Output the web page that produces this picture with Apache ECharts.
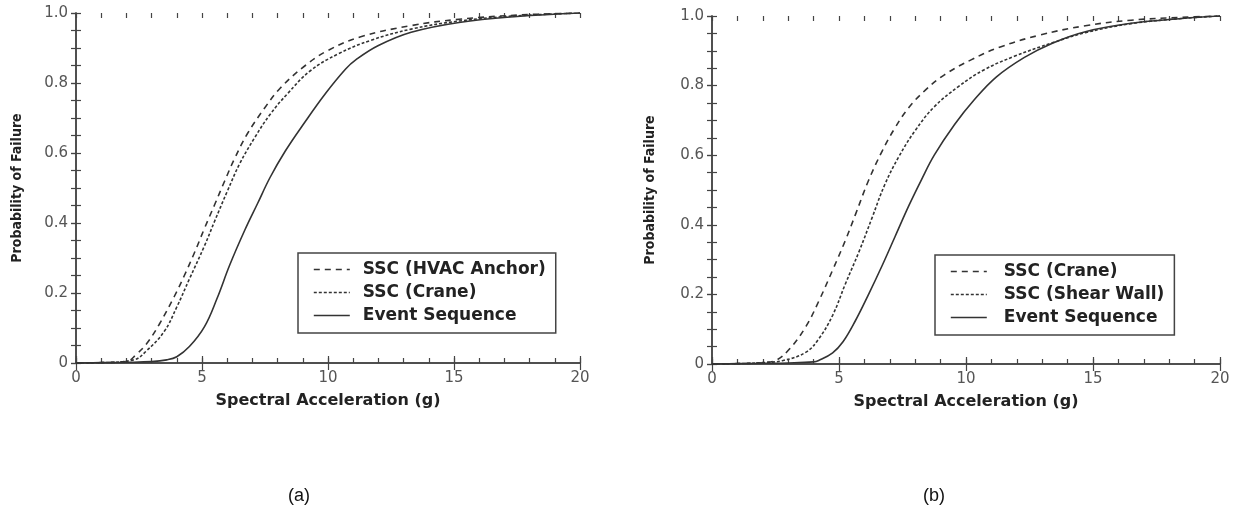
<!DOCTYPE html>
<html>
<head>
<meta charset="utf-8">
<script src="https://cdn.jsdelivr.net/npm/echarts@6/dist/echarts.min.js"></script>
<style>
  html, body { margin: 0; padding: 0; background: #fff; }
  #main { width: 1234px; height: 513px; }
</style>
</head>
<body>
<div id="main"></div>
<script>
// (a) HVAC anchor / crane / event sequence
var hvacX = [0, 1, 2, 2.4, 2.8, 3.3, 3.9, 4.3, 4.7, 5.1, 5.5, 5.9, 6.3, 6.8, 7.5, 8.1, 9.1, 10, 11.3, 13.3, 15.2, 17.5, 20];
var hvacY = [0, 0.001, 0.004, 0.025, 0.055, 0.11, 0.19, 0.25, 0.315, 0.385, 0.452, 0.52, 0.585, 0.655, 0.73, 0.785, 0.85, 0.893, 0.932, 0.964, 0.982, 0.994, 1.0];
var craneAX = [0, 1, 2.3, 2.8, 3.5, 4, 4.5, 5.1, 5.5, 6, 6.5, 7.1, 7.7, 8.4, 9.3, 10.4, 11.7, 13.3, 15.2, 17.5, 20];
var craneAY = [0, 0.001, 0.009, 0.035, 0.09, 0.16, 0.24, 0.335, 0.405, 0.49, 0.57, 0.645, 0.71, 0.77, 0.835, 0.883, 0.922, 0.954, 0.977, 0.992, 1.0];
var eventAX = [0, 1, 2, 3, 3.6, 4, 4.5, 5.1, 5.6, 6.1, 6.7, 7.2, 7.7, 8.3, 9.1, 9.9, 10.7, 11.1, 12, 13.3, 15.2, 17.5, 20];
var eventAY = [0, 0.001, 0.002, 0.004, 0.009, 0.018, 0.047, 0.104, 0.185, 0.28, 0.38, 0.455, 0.53, 0.605, 0.69, 0.77, 0.84, 0.866, 0.907, 0.945, 0.973, 0.99, 1.0];

// (b) crane / shear wall / event sequence
var craneBX = [0, 1, 2, 2.5, 3.05, 3.7, 4.2, 4.75, 5.25, 5.65, 6.15, 6.7, 7.2, 7.75, 8.4, 9.15, 10.2, 11.35, 12.9, 14.7, 16.5, 18.5, 20];
var craneBY = [0, 0.001, 0.004, 0.01, 0.043, 0.108, 0.18, 0.27, 0.355, 0.43, 0.525, 0.612, 0.678, 0.737, 0.787, 0.831, 0.874, 0.911, 0.945, 0.972, 0.988, 0.996, 1.0];
var shearBX = [0, 1, 2, 2.8, 3.7, 4.2, 4.75, 5.25, 5.8, 6.3, 6.8, 7.35, 8, 8.75, 9.7, 10.7, 11.9, 13.4, 14.7, 16.5, 18.5, 20];
var shearBY = [0, 0.001, 0.004, 0.01, 0.034, 0.072, 0.14, 0.23, 0.325, 0.42, 0.515, 0.595, 0.671, 0.739, 0.797, 0.845, 0.884, 0.923, 0.952, 0.978, 0.993, 1.0];
var eventBX = [0, 1, 2, 3, 4, 4.2, 4.75, 5.15, 5.65, 6.15, 6.7, 7.2, 7.75, 8.25, 8.75, 9.55, 10.3, 11.2, 12.3, 13.4, 14.7, 16.5, 18.5, 20];
var eventBY = [0, 0.001, 0.002, 0.003, 0.006, 0.01, 0.032, 0.063, 0.125, 0.198, 0.283, 0.365, 0.455, 0.53, 0.6, 0.688, 0.757, 0.825, 0.881, 0.922, 0.955, 0.979, 0.993, 1.0];

var legendA = ['SSC (HVAC Anchor)', 'SSC (Crane)', 'Event Sequence'];
var legendB = ['SSC (Crane)', 'SSC (Shear Wall)', 'Event Sequence'];
var xTitle = 'Spectral Acceleration (g)';
var yTitle = 'Probability of Failure';

var DASH = [6, 5];
var DOT = [3, 2];
var INK = '#333';
var AXIS = '#444';

function pairs(xs, ys) {
    return xs.map(function (x, i) { return [x, ys[i]]; });
}

function xAxes(grid) {
    var line = { show: true, lineStyle: { color: AXIS, width: 1.5 } };
    return [
        {   // labelled bottom axis
            gridIndex: grid, type: 'value', position: 'bottom', min: 0, max: 20, interval: 5,
            axisLine: line,
            axisTick: { inside: true, length: 7, lineStyle: { color: AXIS, width: 1.2 } },
            axisLabel: { margin: 8, color: '#555', fontSize: 15, fontFamily: 'DejaVu Sans' },
            splitLine: { show: false },
            name: xTitle, nameLocation: 'middle', nameGap: 30,
            nameTextStyle: { fontSize: 16, fontWeight: 'bold', color: '#222', fontFamily: 'DejaVu Sans' }
        },
        {   // small bottom ticks
            gridIndex: grid, type: 'value', position: 'bottom', min: 0, max: 20, interval: 1,
            axisLine: { show: false },
            axisTick: { inside: true, length: 5, lineStyle: { color: AXIS, width: 1.2 } },
            axisLabel: { show: false }, splitLine: { show: false }
        },
        {   // top frame
            gridIndex: grid, type: 'value', position: 'top', min: 0, max: 20, interval: 5,
            axisLine: line,
            axisTick: { inside: true, length: 7, lineStyle: { color: AXIS, width: 1.2 } },
            axisLabel: { show: false }, splitLine: { show: false }
        },
        {
            gridIndex: grid, type: 'value', position: 'top', min: 0, max: 20, interval: 1,
            axisLine: { show: false },
            axisTick: { inside: true, length: 5, lineStyle: { color: AXIS, width: 1.2 } },
            axisLabel: { show: false }, splitLine: { show: false }
        }
    ];
}

function yAxes(grid, gap) {
    var line = { show: true, lineStyle: { color: AXIS, width: 1.5 } };
    return [
        {
            gridIndex: grid, type: 'value', position: 'left', min: 0, max: 1, interval: 0.2,
            axisLine: line,
            axisTick: { inside: false, length: 5, lineStyle: { color: AXIS, width: 1.2 } },
            axisLabel: {
                margin: 8, color: '#555', fontSize: 15, fontFamily: 'DejaVu Sans',
                formatter: function (v) { return v === 0 ? '0' : v.toFixed(1); }
            },
            splitLine: { show: false },
            name: yTitle, nameLocation: 'middle', nameRotate: 90, nameGap: gap,
            nameTextStyle: {
                fontSize: 14, fontWeight: 'bold', color: '#222',
                fontFamily: "'Liberation Sans Narrow', 'DejaVu Sans Condensed', 'Liberation Sans'"
            }
        },
        {
            gridIndex: grid, type: 'value', position: 'left', min: 0, max: 1, interval: 0.05,
            axisLine: { show: false },
            axisTick: { inside: true, length: 5, lineStyle: { color: AXIS, width: 1.2 } },
            axisLabel: { show: false }, splitLine: { show: false }
        },
        {
            gridIndex: grid, type: 'value', position: 'right', min: 0, max: 1, interval: 0.05,
            axisLine: line,
            axisTick: { inside: true, length: 5, lineStyle: { color: AXIS, width: 1.2 } },
            axisLabel: { show: false }, splitLine: { show: false }
        }
    ];
}

function curve(name, xi, yi, xs, ys, type) {
    return {
        name: name, type: 'line', xAxisIndex: xi, yAxisIndex: yi,
        data: pairs(xs, ys), symbol: 'none', smooth: 0.4,
        lineStyle: { color: INK, width: 1.6, type: type },
        itemStyle: { color: INK },
        silent: true
    };
}

function legend(left, top, names, types, textGap) {
    return {
        orient: 'vertical', left: left, top: top,
        data: names.map(function (n, i) {
            return {
                name: n,
                lineStyle: { type: types[i], color: INK, width: 1.6 },
                itemStyle: { opacity: 0, color: 'rgba(0,0,0,0)', borderWidth: 0 }
            };
        }),
        itemWidth: 36, itemHeight: 14, itemGap: 6,
        padding: [8, 10, 9, 15],
        borderColor: AXIS, borderWidth: 1.5, backgroundColor: '#fff',
        selectedMode: false,
        textStyle: { fontSize: 17, fontWeight: 'bold', color: '#222', fontFamily: 'DejaVu Sans', padding: [0, 0, 0, textGap] }
    };
}

var chart = echarts.init(document.getElementById('main'));
chart.setOption({
    backgroundColor: '#fff',
    animation: false,
    title: [
        { text: '(a)', left: 283, top: 482, textStyle: { fontSize: 18, fontWeight: 'normal', color: '#111', fontFamily: 'Liberation Sans' } },
        { text: '(b)', left: 918, top: 482, textStyle: { fontSize: 18, fontWeight: 'normal', color: '#111', fontFamily: 'Liberation Sans' } }
    ],
    grid: [
        { left: 76, top: 13, width: 504, height: 350 },
        { left: 712, top: 16, width: 508, height: 348 }
    ],
    xAxis: xAxes(0).concat(xAxes(1)),
    yAxis: yAxes(0, 52).concat(yAxes(1, 55)),
    legend: [
        legend(298, 253, legendA, [DASH, DOT, 'solid'], 8),
        legend(935, 255, legendB, [DASH, DOT, 'solid'], 12)
    ],
    series: [
        curve('SSC (HVAC Anchor)', 0, 0, hvacX, hvacY, DASH),
        curve('SSC (Crane)', 0, 0, craneAX, craneAY, DOT),
        curve('Event Sequence', 0, 0, eventAX, eventAY, 'solid'),
        curve('SSC (Crane)', 4, 3, craneBX, craneBY, DASH),
        curve('SSC (Shear Wall)', 4, 3, shearBX, shearBY, DOT),
        curve('Event Sequence', 4, 3, eventBX, eventBY, 'solid')
    ]
});
</script>
</body>
</html>
